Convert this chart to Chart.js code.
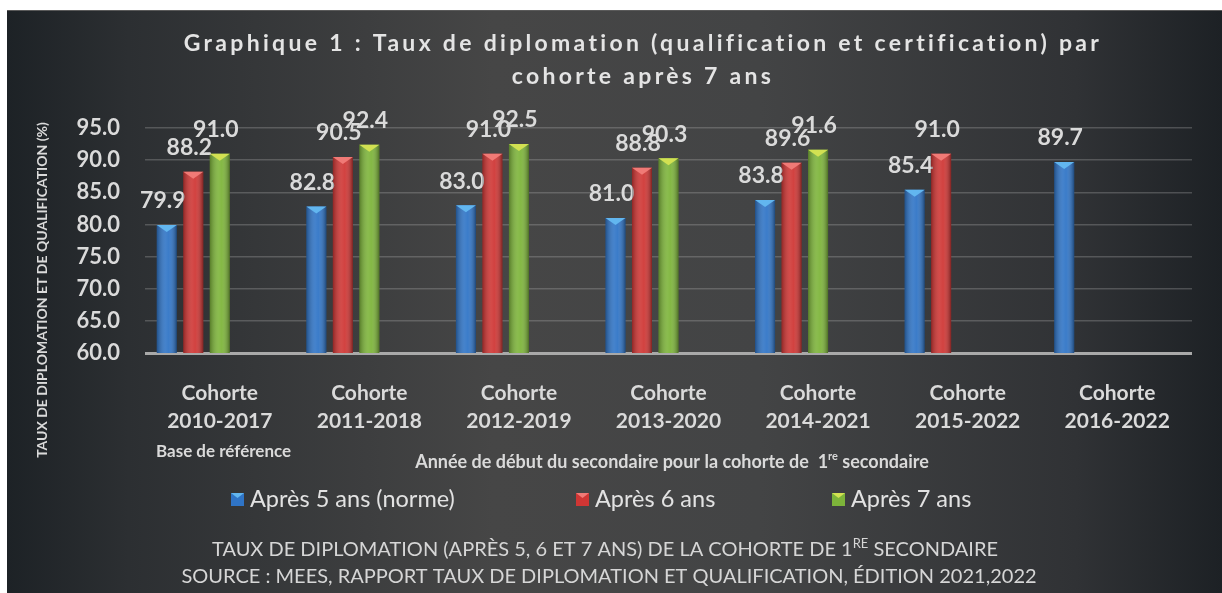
<!DOCTYPE html>
<html lang="fr">
<head>
<meta charset="utf-8">
<title>Taux de diplomation par cohorte</title>
<script src="https://cdn.jsdelivr.net/npm/chart.js@4.4.1/dist/chart.umd.min.js"></script>
<style>
  html, body { margin: 0; padding: 0; background: #fff; }
  canvas { display: block; }
</style>
</head>
<body>
<canvas id="chart" width="1222" height="593"></canvas>
<script>
// Données
const cohortes = [
    ['Cohorte', '2010-2017'],
    ['Cohorte', '2011-2018'],
    ['Cohorte', '2012-2019'],
    ['Cohorte', '2013-2020'],
    ['Cohorte', '2014-2021'],
    ['Cohorte', '2015-2022'],
    ['Cohorte', '2016-2022']
];
const apres5 = [79.9, 82.8, 83.0, 81.0, 83.8, 85.4, 89.7];
const apres6 = [88.2, 90.5, 91.0, 88.8, 89.6, 91.0, null];
const apres7 = [91.0, 92.4, 92.5, 90.3, 91.6, null, null];
// séries vides : le graphique d'origine réserve deux places de plus par groupe
const vide = [null, null, null, null, null, null, null];
const nomsSeries = ['Après 5 ans (norme)', 'Après 6 ans', 'Après 7 ans'];
const yMin = 60, yMax = 95, yPas = 5;

const couleurs = ['#2f74c6', '#cf3634', '#7db43a'];
const facettes = ['#62b6ef', '#f07a76', '#d2e152'];
const texte = '#dadada';
const police = 'Lato, "Open Sans", sans-serif';

// dessine un texte composé de morceaux (exposants) centré sur cx
function texteRiche(ctx, morceaux, cx, y) {
    let total = 0;
    morceaux.forEach(m => { ctx.font = m.font; total += ctx.measureText(m.t).width; });
    let x = cx - total / 2;
    ctx.textAlign = 'left';
    morceaux.forEach(m => {
        ctx.font = m.font;
        ctx.fillText(m.t, x, y + (m.dy || 0));
        x += ctx.measureText(m.t).width;
    });
}

const fond = {
    id: 'fond',
    beforeDraw(chart) {
        const { ctx, width, height } = chart;
        ctx.save();
        ctx.fillStyle = '#ffffff';
        ctx.fillRect(0, 0, width, height);
        const g = ctx.createLinearGradient(7, 0, width, 0);
        g.addColorStop(0, '#1d2226');
        g.addColorStop(0.1, '#2c2f32');
        g.addColorStop(0.4, '#464646');
        g.addColorStop(0.62, '#434445');
        g.addColorStop(0.88, '#303235');
        g.addColorStop(1, '#1d2125');
        ctx.fillStyle = g;
        ctx.fillRect(7, 10, width - 7, height - 10);
        ctx.fillStyle = '#5a5a5a';
        ctx.fillRect(7, 10, width - 7, 1);
        ctx.restore();
    }
};

const barres3d = {
    id: 'barres3d',
    afterDatasetsDraw(chart) {
        const ctx = chart.ctx;
        const bas = chart.chartArea.bottom;
        ctx.save();
        for (let d = 0; d < 3; d++) {
            const meta = chart.getDatasetMeta(d);
            meta.data.forEach((bar, i) => {
                const v = chart.data.datasets[d].data[i];
                if (v === null) return;
                const { x, y, width } = bar.getProps(['x', 'y', 'width'], true);
                const l = x - width / 2;
                const g = ctx.createLinearGradient(l, 0, l + width, 0);
                g.addColorStop(0, 'rgba(0,0,0,0.30)');
                g.addColorStop(0.45, 'rgba(255,255,255,0.10)');
                g.addColorStop(0.6, 'rgba(255,255,255,0.06)');
                g.addColorStop(1, 'rgba(0,0,0,0.38)');
                ctx.fillStyle = g;
                ctx.fillRect(l, y, width, bas - y);
                ctx.fillStyle = facettes[d];
                ctx.beginPath();
                ctx.moveTo(l, y);
                ctx.lineTo(l + width, y);
                ctx.lineTo(x, y + 7);
                ctx.closePath();
                ctx.fill();
                // étiquette de valeur
                ctx.fillStyle = texte;
                ctx.font = 'bold 23px ' + police;
                ctx.textAlign = 'center';
                ctx.textBaseline = 'middle';
                ctx.fillText(v.toFixed(1), x - 4, y - 24);
            });
        }
        ctx.restore();
    }
};

const textes = {
    id: 'textes',
    afterDraw(chart) {
        const ctx = chart.ctx;
        ctx.save();
        ctx.fillStyle = '#e4e4e4';
        ctx.textBaseline = 'middle';

        // titre espacé
        ctx.font = 'bold 23px ' + police;
        ctx.letterSpacing = '3.3px';
        ctx.textAlign = 'center';
        ctx.fillText('Graphique 1 : Taux de diplomation (qualification et certification) par', 643, 44);
        ctx.fillText('cohorte après 7 ans', 643, 77);
        ctx.letterSpacing = '0px';

        // titre de l'axe vertical
        ctx.fillStyle = texte;
        ctx.save();
        ctx.translate(42, 290);
        ctx.rotate(-Math.PI / 2);
        ctx.font = 'bold 14px ' + police;
        ctx.fillText('TAUX DE DIPLOMATION ET DE QUALIFICATION (%)', 0, 0);
        ctx.restore();

        // sous les étiquettes
        ctx.font = 'bold 17px ' + police;
        ctx.textAlign = 'left';
        ctx.fillText('Base de référence', 156, 452);
        const f = 'bold 18px ' + police, fs = 'bold 11px ' + police;
        texteRiche(ctx, [
            { t: 'Année de début du secondaire pour la cohorte de  1', font: f },
            { t: 're', font: fs, dy: -6 },
            { t: ' secondaire', font: f }
        ], 672, 462);

        // légende
        const boite = 13, gap = 6;
        const posLegende = [231, 576, 832];
        nomsSeries.forEach((n, k) => {
            const x = posLegende[k];
            ctx.fillStyle = couleurs[k];
            ctx.fillRect(x, 493, boite, boite);
            ctx.fillStyle = facettes[k];
            ctx.beginPath();
            ctx.moveTo(x, 493); ctx.lineTo(x + boite, 493); ctx.lineTo(x + boite / 2, 498);
            ctx.closePath(); ctx.fill();
            ctx.fillStyle = '#e2e2e2';
            ctx.font = '23.5px ' + police;
            ctx.textAlign = 'left';
            ctx.fillText(n, x + boite + gap, 499);
        });

        // source
        ctx.fillStyle = '#d6d6d6';
        const p = '20px ' + police, ps = '13px ' + police;
        texteRiche(ctx, [
            { t: 'TAUX DE DIPLOMATION (APRÈS 5, 6 ET 7 ANS) DE LA COHORTE DE 1', font: p },
            { t: 'RE', font: ps, dy: -6 },
            { t: ' SECONDAIRE', font: p }
        ], 605, 550);
        ctx.textAlign = 'center';
        ctx.font = p;
        ctx.fillText('SOURCE : MEES, RAPPORT TAUX DE DIPLOMATION ET QUALIFICATION, ÉDITION 2021,2022', 609, 577);
        ctx.restore();
    }
};

const jeux = [apres5, apres6, apres7].map((data, k) => ({
    label: nomsSeries[k],
    data: data,
    backgroundColor: couleurs[k],
    borderWidth: 0
}));
jeux.push({ label: '', data: vide }, { label: '', data: vide });

new Chart(document.getElementById('chart'), {
    type: 'bar',
    data: { labels: cohortes, datasets: jeux },
    options: {
        responsive: false,
        animation: false,
        categoryPercentage: 0.886,
        barPercentage: 0.755,
        layout: { padding: { left: 0, right: 30, top: 128, bottom: 0 } },
        plugins: {
            legend: { display: false },
            title: { display: false },
            tooltip: { enabled: false }
        },
        scales: {
            x: {
                grid: { display: false },
                border: { display: false },
                ticks: {
                    color: texte,
                    padding: 18,
                    font: { family: police, size: 21, weight: 'bold', lineHeight: 1.333 }
                },
                afterFit: s => { s.height = 240; }
            },
            y: {
                min: yMin,
                max: yMax,
                border: { display: false },
                grid: {
                    drawTicks: false,
                    color: c => c.tick.value === yMin ? '#a9a9a9' : 'rgba(190,190,190,0.28)',
                    lineWidth: c => c.tick.value === yMin ? 3 : 1.5
                },
                ticks: {
                    stepSize: yPas,
                    color: texte,
                    padding: 25,
                    font: { family: police, size: 22, weight: 'bold' },
                    callback: v => v.toFixed(1)
                },
                afterFit: s => { s.width = 145; }
            }
        }
    },
    plugins: [fond, barres3d, textes]
});
</script>
</body>
</html>
